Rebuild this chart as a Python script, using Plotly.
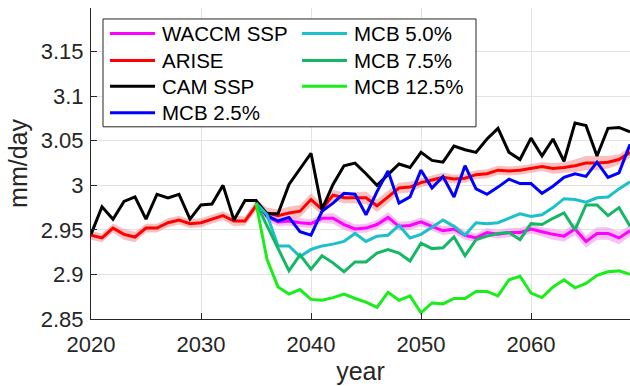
import plotly.graph_objects as go

# ---- data -------------------------------------------------------------
years_all = list(range(2020, 2070))
years_mcb = list(range(2035, 2070))

cam_ssp = [2.945, 2.976, 2.962, 2.982, 2.987, 2.962, 2.990, 2.986, 2.990, 2.962,
           2.978, 2.979, 3.000, 2.961, 2.983, 2.983, 2.968, 2.968, 3.001, 3.018,
           3.036, 2.973, 3.001, 3.022, 3.025, 3.013, 3.000, 3.012, 3.024, 3.020,
           3.037, 3.028, 3.026, 3.044, 3.040, 3.037, 3.052, 3.064, 3.037, 3.029,
           3.053, 3.033, 3.052, 3.027, 3.070, 3.067, 3.033, 3.064, 3.065, 3.060]

arise = [2.944, 2.941, 2.952, 2.945, 2.942, 2.952, 2.952, 2.958, 2.961, 2.957,
         2.958, 2.962, 2.966, 2.960, 2.960, 2.977, 2.969, 2.966, 2.969, 2.971,
         2.984, 2.973, 2.989, 2.986, 2.986, 2.986, 2.977, 2.987, 2.997, 2.998,
         3.003, 3.006, 3.009, 3.007, 3.008, 3.012, 3.013, 3.017, 3.016, 3.017,
         3.019, 3.021, 3.019, 3.020, 3.022, 3.025, 3.025, 3.026, 3.029, 3.037]
arise_spread = [0.005, 0.005, 0.005, 0.006, 0.006, 0.005, 0.005, 0.005, 0.005, 0.005,
                0.005, 0.005, 0.005, 0.006, 0.005, 0.006, 0.006, 0.007, 0.007, 0.007,
                0.007, 0.006, 0.006, 0.006, 0.006, 0.007, 0.007, 0.007, 0.006, 0.006,
                0.005, 0.005, 0.005, 0.005, 0.005, 0.005, 0.005, 0.005, 0.005, 0.005,
                0.005, 0.005, 0.006, 0.006, 0.007, 0.008, 0.008, 0.007, 0.006, 0.006]

waccm_ssp = [2.983, 2.965, 2.959, 2.960, 2.958, 2.957, 2.963, 2.963, 2.956, 2.951,
             2.952, 2.956, 2.964, 2.954, 2.955, 2.959, 2.954, 2.949, 2.951, 2.944,
             2.941, 2.947, 2.945, 2.947, 2.947, 2.951, 2.948, 2.945, 2.943, 2.951,
             2.937, 2.946, 2.946, 2.941, 2.949]
waccm_spread = [0.003, 0.005, 0.005, 0.005, 0.005, 0.005, 0.005, 0.006, 0.006, 0.005,
                0.005, 0.005, 0.006, 0.005, 0.005, 0.005, 0.005, 0.005, 0.005, 0.005,
                0.005, 0.005, 0.005, 0.005, 0.005, 0.005, 0.005, 0.006, 0.006, 0.007,
                0.007, 0.007, 0.007, 0.007, 0.006]

mcb_2p5 = [2.980, 2.966, 2.960, 2.964, 2.948, 2.944, 2.971, 2.980, 2.991, 2.990,
           2.967, 2.993, 3.016, 2.980, 2.987, 3.017, 2.997, 3.010, 2.987, 3.022,
           2.996, 2.990, 2.998, 3.007, 3.002, 3.002, 2.991, 2.999, 3.009, 3.013,
           3.010, 3.026, 3.009, 3.014, 3.046]

mcb_5p0 = [2.980, 2.967, 2.932, 2.932, 2.920, 2.928, 2.932, 2.934, 2.937, 2.946,
           2.937, 2.943, 2.944, 2.955, 2.941, 2.945, 2.953, 2.961, 2.954, 2.944,
           2.958, 2.957, 2.958, 2.963, 2.968, 2.965, 2.967, 2.975, 2.985, 2.984,
           2.981, 2.986, 2.987, 2.996, 3.004]

mcb_7p5 = [2.980, 2.955, 2.930, 2.904, 2.922, 2.906, 2.921, 2.913, 2.903, 2.914,
           2.914, 2.924, 2.928, 2.924, 2.915, 2.935, 2.929, 2.930, 2.942, 2.921,
           2.939, 2.943, 2.946, 2.947, 2.939, 2.957, 2.956, 2.963, 2.969, 2.950,
           2.978, 2.978, 2.966, 2.975, 2.954]

mcb_12p5 = [2.980, 2.917, 2.886, 2.878, 2.883, 2.872, 2.871, 2.874, 2.878, 2.873,
            2.869, 2.863, 2.880, 2.871, 2.876, 2.857, 2.868, 2.867, 2.873, 2.873,
            2.881, 2.881, 2.876, 2.894, 2.898, 2.879, 2.874, 2.886, 2.894, 2.885,
            2.890, 2.899, 2.903, 2.904, 2.900]

x_ticks = [2020, 2030, 2040, 2050, 2060]
y_ticks = [2.85, 2.90, 2.95, 3.00, 3.05, 3.10, 3.15]
y_tick_labels = ["2.85", "2.9", "2.95", "3", "3.05", "3.1", "3.15"]

# ---- styling ----------------------------------------------------------
FONT = "Liberation Sans, Arial, Helvetica, sans-serif"
AX = "#262626"
LW = 3

series = [
    ("WACCM SSP", years_mcb, waccm_ssp, "#ff00ff"),
    ("ARISE", years_all, arise, "#ff0000"),
    ("CAM SSP", years_all, cam_ssp, "#000000"),
    ("MCB 2.5%", years_mcb, mcb_2p5, "#0000ff"),
    ("MCB 5.0%", years_mcb, mcb_5p0, "#1cc0c8"),
    ("MCB 7.5%", years_mcb, mcb_7p5, "#14b864"),
    ("MCB 12.5%", years_mcb, mcb_12p5, "#1aee1a"),
]

fig = go.Figure()


def add_band(xs, ys, spread, color):
    upper = [v + s for v, s in zip(ys, spread)]
    lower = [v - s for v, s in zip(ys, spread)]
    fig.add_trace(go.Scatter(x=xs, y=upper, mode="lines", line=dict(width=0),
                             hoverinfo="skip", showlegend=False))
    fig.add_trace(go.Scatter(x=xs, y=lower, mode="lines", line=dict(width=0),
                             fill="tonexty", fillcolor=color,
                             hoverinfo="skip", showlegend=False))


# ensemble spread shading
add_band(years_all, arise, arise_spread, "rgba(245,150,150,0.6)")
add_band(years_mcb, waccm_ssp, waccm_spread, "rgba(245,150,240,0.6)")

for name, xs, ys, color in series:
    fig.add_trace(go.Scatter(x=xs, y=ys, mode="lines", name=name,
                             line=dict(color=color, width=LW), showlegend=False))

# ---- legend box (two columns) ----------------------------------------
L, T, W, H = 91, 8, 539, 311.5   # plot area in pixels


def px(xpix):
    return (xpix - L) / W


def py(ypix):
    return 1 - (ypix - T) / H


shapes = [dict(type="rect", xref="paper", yref="paper",
               x0=px(103), x1=px(476), y0=py(127), y1=py(19),
               line=dict(color=AX, width=1), fillcolor="white", layer="above")]
annotations = []
col_x = [110, 302]
row_y = [33.5, 60.5, 86.5, 113]
slots = [(0, 0), (0, 1), (0, 2), (0, 3), (1, 0), (1, 1), (1, 2)]
for (name, _, _, color), (c, r) in zip(series, slots):
    x0 = col_x[c]
    yy = row_y[r]
    shapes.append(dict(type="line", xref="paper", yref="paper",
                       x0=px(x0), x1=px(x0 + 45), y0=py(yy), y1=py(yy),
                       line=dict(color=color, width=LW), layer="above"))
    annotations.append(dict(xref="paper", yref="paper", x=px(x0 + 50), y=py(yy),
                            text=name, showarrow=False, xanchor="left",
                            yanchor="middle",
                            font=dict(family=FONT, size=20.5, color="#000000")))

fig.update_layout(
    width=630, height=386,
    margin=dict(l=L, r=0, t=T, b=386 - T - H),
    paper_bgcolor="white", plot_bgcolor="white",
    font=dict(family=FONT, color=AX),
    shapes=shapes, annotations=annotations,
    showlegend=False,
)

fig.update_xaxes(
    range=[2020, 2069], tickvals=x_ticks,
    ticks="inside", ticklen=6, tickcolor=AX, tickwidth=1,
    showline=True, linecolor=AX, linewidth=1,
    showgrid=True, gridcolor="#e3e3e3", gridwidth=1, zeroline=False,
    tickfont=dict(family=FONT, size=22, color=AX), ticklabelstandoff=6,
    title=dict(text="year", font=dict(family=FONT, size=25, color=AX), standoff=6),
)
fig.update_yaxes(
    range=[2.85, 3.199], tickvals=y_ticks, ticktext=y_tick_labels,
    ticks="inside", ticklen=6, tickcolor=AX, tickwidth=1,
    showline=True, linecolor=AX, linewidth=1,
    showgrid=True, gridcolor="#e3e3e3", gridwidth=1, zeroline=False,
    tickfont=dict(family=FONT, size=22, color=AX), ticklabelstandoff=2,
    title=dict(text="mm/day", font=dict(family=FONT, size=25, color=AX), standoff=6),
)

fig.write_html("out.html")
